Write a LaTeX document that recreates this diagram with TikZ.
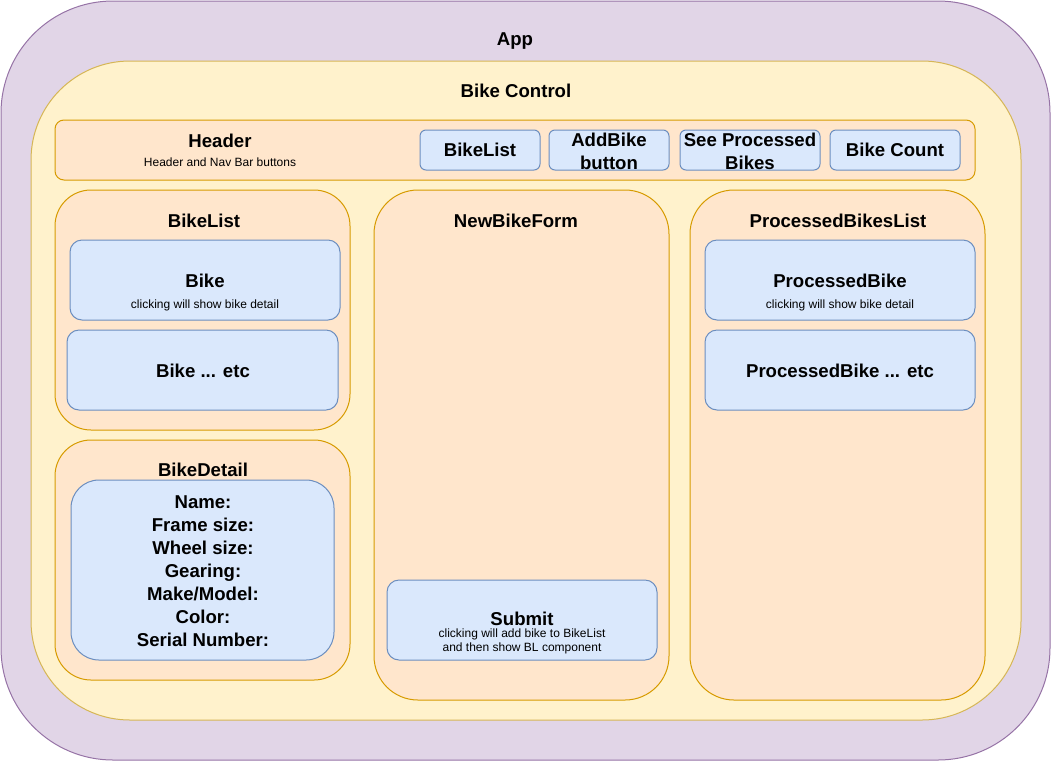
\documentclass[tikz,border=0pt]{standalone}
\usepackage{fontspec}
\setmainfont{Liberation Sans}
\definecolor{appF}{HTML}{E1D5E7}
\definecolor{appD}{HTML}{9673A6}
\definecolor{ctlF}{HTML}{FFF2CC}
\definecolor{ctlD}{HTML}{D6B656}
\definecolor{orF}{HTML}{FFE6CC}
\definecolor{orD}{HTML}{D79B00}
\definecolor{blF}{HTML}{DAE8FC}
\definecolor{blD}{HTML}{6C8EBF}
\tikzset{
  shp/.style={inner sep=0pt, outer sep=0pt, line width=1pt},
  appbox/.style={shp, fill=appF, draw=appD},
  ctlbox/.style={shp, fill=ctlF, draw=ctlD},
  orbox/.style={shp, fill=orF, draw=orD},
  blbox/.style={shp, fill=blF, draw=blD},
  big/.style={inner sep=0pt, align=center, font=\bfseries\fontsize{18.6}{23}\selectfont},
  small/.style={inner sep=0pt, align=center, font=\fontsize{12}{14}\selectfont},
}
\begin{document}
\begin{tikzpicture}[x=1pt,y=-1pt]
\useasboundingbox (0,0) rectangle (1051,761);
% boxes
\node[appbox, minimum width=1049, minimum height=759, rounded corners=112] (app) at (525.5,380.5) {};
\node[ctlbox, minimum width=990, minimum height=659, rounded corners=99] (ctl) at (526,390.5) {};
\node[orbox, minimum width=920, minimum height=60, rounded corners=9] (hdr) at (515,150) {};
\node[blbox, minimum width=120, minimum height=40, rounded corners=6] (b1) at (480,150) {};
\node[blbox, minimum width=120, minimum height=40, rounded corners=6] (b2) at (609,150) {};
\node[blbox, minimum width=140, minimum height=40, rounded corners=6] (b3) at (750,150) {};
\node[blbox, minimum width=130, minimum height=40, rounded corners=6] (b4) at (895,150) {};
\node[orbox, minimum width=295, minimum height=240, rounded corners=36] (bl) at (202.5,310) {};
\node[blbox, minimum width=270, minimum height=80, rounded corners=12] (bike1) at (205,280) {};
\node[blbox, minimum width=271, minimum height=80, rounded corners=12] (bike2) at (202.5,370) {};
\node[orbox, minimum width=295, minimum height=240, rounded corners=36] (bd) at (202.5,560) {};
\node[blbox, minimum width=263, minimum height=180, rounded corners=28] (bdin) at (202.5,570) {};
\node[orbox, minimum width=295, minimum height=510, rounded corners=44] (nbf) at (521.5,445) {};
\node[blbox, minimum width=270, minimum height=80, rounded corners=12] (sub) at (522,620) {};
\node[orbox, minimum width=295, minimum height=510, rounded corners=44] (pbl) at (837.5,445) {};
\node[blbox, minimum width=270, minimum height=80, rounded corners=12] (pb1) at (840,280) {};
\node[blbox, minimum width=270, minimum height=80, rounded corners=12] (pb2) at (840,370) {};
% texts
\node[big] (tApp) at (515,41) {App};
\node[big] (tCtl) at (516,91) {Bike Control};
\node[big] (tHdr) at (220,141) {Header};
\node[small] (tHdrS) at (220,162) {Header and Nav Bar buttons};
\node[big] (tB1) at (480,150) {BikeList};
\node[big] (tB2) at (609,151) {AddBike\\button};
\node[big] (tB3) at (750,151) {See Processed\\Bikes};
\node[big] (tB4) at (895,150) {Bike Count};
\node[big] (tBL) at (204,221) {BikeList};
\node[big] (tBike) at (205,281) {Bike};
\node[small] (tBikeS) at (205,305) {clicking will show bike detail};
\node[big] (tBike2) at (203,371) {Bike ... etc};
\node[big] (tBD) at (203,470) {BikeDetail};
\node[big] (tBDin) at (203,571) {Name:\\Frame size:\\Wheel size:\\Gearing:\\Make/Model:\\Color:\\Serial Number:};
\node[big] (tNBF) at (516,221) {NewBikeForm};
\node[big] (tSub) at (522,619) {Submit};
\node[small] (tSubS) at (522,641) {clicking will add bike to BikeList\\and then show BL component};
\node[big] (tPBL) at (838,221) {ProcessedBikesList};
\node[big] (tPB) at (840,281) {ProcessedBike};
\node[small] (tPBS) at (840,305) {clicking will show bike detail};
\node[big] (tPB2) at (840,371) {ProcessedBike ... etc};
\end{tikzpicture}
\end{document}
